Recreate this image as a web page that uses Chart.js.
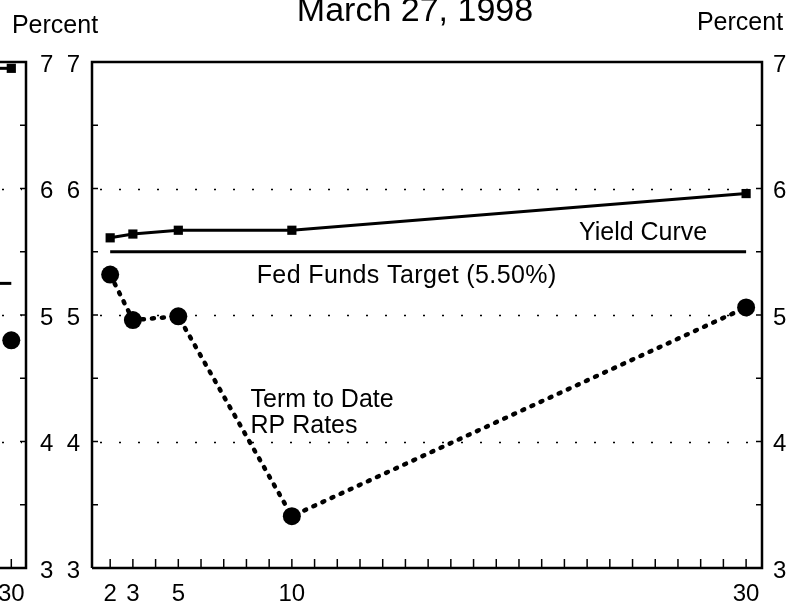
<!DOCTYPE html>
<html>
<head>
<meta charset="utf-8">
<script src="https://cdn.jsdelivr.net/npm/chart.js@4.4.0/dist/chart.umd.min.js"></script>
<style>
  body { margin: 0; background: #fff; }
  #contenedor { position: relative; width: 790px; height: 608px; overflow: hidden; }
  canvas { position: absolute; top: 0; left: 0; }
  #chartPrevio { left: -40px; }
</style>
</head>
<body>
<div id="contenedor">
  <canvas id="chartPrevio" width="100" height="608"></canvas>
  <canvas id="chartCurva" width="790" height="608"></canvas>
</div>
<script>
// Datos (plazo en dias, tasas en %)
const plazos = [2, 3, 5, 10, 30];
const curvaRendimiento = [5.61, 5.64, 5.67, 5.67, 5.96];
const tasasRP = [5.32, 4.96, 4.99, 3.41, 5.06];
const plazosObjetivo = [2, 30];
const objetivoFed = [5.50, 5.50];

// Panel anterior: solo se ve su borde derecho
const plazosPrevios = [29.5, 30];
const curvaPrevia = [6.95, 6.95];
const objetivoPrevio = [5.25, 5.25];
const plazoRPPrevio = [30];
const rpPrevio = [4.80];

const etiquetasX = [2, 3, 5, 10, 30];
const etiquetasY = [3, 4, 5, 6, 7];
const lineasGuia = [4, 5, 6];

const FUENTE = '"Liberation Sans", Arial, Helvetica, sans-serif';
const marcasX = Array.from({ length: 29 }, (_, i) => i + 2);
const marcasY = Array.from({ length: 9 }, (_, i) => 3 + i * 0.5);

function puntos(xs, ys) {
    return xs.map((x, i) => ({ x: x, y: ys[i] }));
}

// Dibuja lineas guia punteadas, marco, marcas hacia adentro y textos
const marcoPlugin = {
    id: 'marco',
    beforeDatasetsDraw(chart, args, opts) {
        const { ctx, chartArea: a, scales } = chart;
        ctx.save();
        ctx.strokeStyle = '#000';
        ctx.lineWidth = 1.5;
        ctx.setLineDash([2, 17]);
        lineasGuia.forEach(v => {
            let y = Math.round(scales.y.getPixelForValue(v)) + 0.5;
            ctx.beginPath();
            ctx.moveTo(a.left + (opts.izq ? 8 : 2), y);
            ctx.lineTo(a.right - 4, y);
            ctx.stroke();
        });
        ctx.restore();
    },
    afterDatasetsDraw(chart, args, opts) {
        const { ctx, chartArea: a, scales } = chart;
        ctx.save();
        ctx.strokeStyle = '#000';
        ctx.lineWidth = 2.5;
        ctx.beginPath();
        if (opts.izq) { ctx.moveTo(a.left, a.bottom); ctx.lineTo(a.left, a.top); }
        else ctx.moveTo(a.left, a.top);
        ctx.lineTo(a.right, a.top);
        ctx.lineTo(a.right, a.bottom);
        ctx.lineTo(a.left, a.bottom);
        ctx.stroke();

        // marcas del eje x
        ctx.lineWidth = 1.5;
        (opts.marcasX || marcasX).forEach(v => {
            let x = scales.x.getPixelForValue(v);
            ctx.beginPath();
            ctx.moveTo(x, a.bottom);
            ctx.lineTo(x, a.bottom - 9);
            ctx.stroke();
        });
        // marcas del eje y (cada 0.5)
        marcasY.forEach(v => {
            let y = scales.y.getPixelForValue(v);
            ctx.beginPath();
            if (opts.izq) { ctx.moveTo(a.left, y); ctx.lineTo(a.left + 6, y); }
            ctx.moveTo(a.right, y);
            ctx.lineTo(a.right - 6, y);
            ctx.stroke();
        });
        ctx.restore();
    },
    afterDraw(chart, args, opts) {
        if (!opts.textos) return;
        const { ctx, scales } = chart;
        const px = v => scales.x.getPixelForValue(v);
        const py = v => scales.y.getPixelForValue(v);
        ctx.save();
        ctx.fillStyle = '#000';
        ctx.textBaseline = 'alphabetic';

        ctx.font = '34px ' + FUENTE;
        ctx.textAlign = 'center';
        ctx.fillText('March 27, 1998', 415, 21);

        ctx.font = '25px ' + FUENTE;
        ctx.fillText('Percent', 55, 33);
        ctx.fillText('Percent', 740, 30);

        ctx.textAlign = 'left';
        ctx.fillText('Yield Curve', px(22.64), py(5.593));
        ctx.fillText('Term to Date', px(8.18), py(4.273));
        ctx.fillText('RP Rates', px(8.18), py(4.067));
        ctx.letterSpacing = '0.4px';
        ctx.fillText('Fed Funds Target (5.50%)', px(8.45), py(5.253));
        ctx.restore();
    }
};

function ejeY(posicion, ancho, relleno, conEtiquetas) {
    return {
        type: 'linear',
        position: posicion,
        min: 3,
        max: 7,
        grid: { display: false, drawTicks: false },
        border: { display: false },
        afterBuildTicks: s => { s.ticks = etiquetasY.map(v => ({ value: v })); },
        afterFit: s => { s.width = ancho; },
        ticks: {
            color: '#000',
            padding: relleno,
            labelOffset: 3,
            font: { family: FUENTE, size: 24 },
            callback: v => conEtiquetas === false ? '' : String(v)
        }
    };
}

function ejeX(min, max, etiquetas) {
    return {
        type: 'linear',
        min: min,
        max: max,
        grid: { display: false, drawTicks: false },
        border: { display: false },
        afterBuildTicks: s => { s.ticks = etiquetas.map(v => ({ value: v })); },
        afterFit: s => { s.height = 40; },
        ticks: {
            color: '#000',
            padding: 12,
            autoSkip: false,
            maxRotation: 0,
            font: { family: FUENTE, size: 24 },
            callback: v => String(v)
        }
    };
}

const estiloCurva = {
    borderColor: '#000', backgroundColor: '#000', borderWidth: 3,
    pointStyle: 'rect', pointRadius: 6.5, pointBorderWidth: 0
};
const estiloObjetivo = { borderColor: '#000', borderWidth: 3, pointRadius: 0 };
const estiloRP = {
    borderColor: '#000', backgroundColor: '#000', borderWidth: 4.5,
    borderDash: [2, 8], borderCapStyle: 'round',
    pointRadius: 9, pointBorderWidth: 0
};

// Panel principal
new Chart(document.getElementById('chartCurva'), {
    type: 'line',
    data: {
        datasets: [
            Object.assign({ data: puntos(plazosObjetivo, objetivoFed) }, estiloObjetivo),
            Object.assign({ data: puntos(plazos, curvaRendimiento) }, estiloCurva),
            Object.assign({ data: puntos(plazos, tasasRP) }, estiloRP)
        ]
    },
    options: {
        responsive: false,
        animation: false,
        layout: { padding: { top: 62, left: 0, right: 0, bottom: 0 } },
        plugins: {
            legend: { display: false },
            tooltip: { enabled: false },
            marco: { izq: true, textos: true }
        },
        scales: {
            x: ejeX(1.2, 30.7, etiquetasX),
            y: ejeY('left', 92, 12),
            y2: ejeY('right', 28, 11)
        }
    },
    plugins: [marcoPlugin]
});

// Panel anterior (recortado a la izquierda; el lienzo empieza 40px fuera de la pagina)
new Chart(document.getElementById('chartPrevio'), {
    type: 'line',
    data: {
        datasets: [
            Object.assign({ data: puntos(plazosPrevios, objetivoPrevio), yAxisID: 'y' }, estiloObjetivo),
            Object.assign({ data: puntos(plazosPrevios, curvaPrevia), yAxisID: 'y' }, estiloCurva, { pointRadius: [0, 6.5] }),
            Object.assign({ data: puntos(plazoRPPrevio, rpPrevio), yAxisID: 'y' }, estiloRP)
        ]
    },
    options: {
        responsive: false,
        animation: false,
        layout: { padding: { top: 62, left: 0, right: 0, bottom: 0 } },
        plugins: {
            legend: { display: false },
            tooltip: { enabled: false },
            marco: { izq: false, textos: false, marcasX: [30] }
        },
        scales: {
            x: ejeX(29.5, 30.65, [30]),
            yOculto: ejeY('left', 40, 0, false),
            y: ejeY('right', 34, 14)
        }
    },
    plugins: [marcoPlugin]
});
</script>
</body>
</html>
